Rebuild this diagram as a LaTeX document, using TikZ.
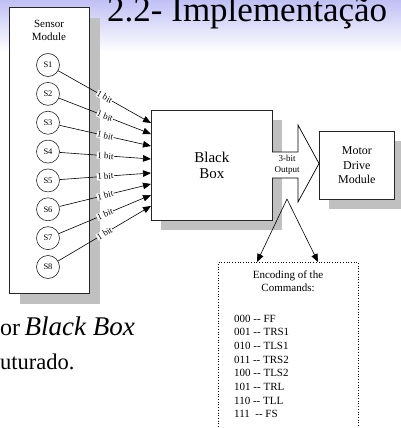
\documentclass[tikz,border=0pt]{standalone}
\usepackage{fontspec}
\setmainfont{Liberation Serif}
\usetikzlibrary{arrows.meta,shadows}
\definecolor{hdr}{RGB}{192,192,245}
\definecolor{shadowgray}{RGB}{192,192,192}
\tikzset{
  shadowed/.style={drop shadow={shadow xshift=#1, shadow yshift=-#1, fill=shadowgray, opacity=1}},
  boxstyle/.style={draw=black!85, line width=0.8pt, fill=white, inner sep=0pt, align=center},
  sensorc/.style={circle, draw=black!85, line width=0.6pt, minimum size=23pt, inner sep=0pt, font=\fontsize{8.5}{10}\selectfont},
  bitline/.style={-{Triangle[length=8pt,width=6.5pt]}, line width=0.6pt},
  bitlabel/.style={sloped, fill=white, inner sep=0.4pt, pos=0.5, font=\fontsize{9}{10}\selectfont},
  codeline/.style={anchor=base west, inner sep=0pt, font=\fontsize{11}{12}\selectfont},
}
\begin{document}
\begin{tikzpicture}[x=1pt,y=-1pt]
\useasboundingbox (0,0) rectangle (401,428);
\clip (0,0) rectangle (401,428);
\fill[white] (0,0) rectangle (401,428);
\shade[top color=hdr, bottom color=white] (0,0) rectangle (401,52);

% title
\node[anchor=base west, inner sep=0pt, font=\fontsize{35}{40}\selectfont] (title) at (107,22) {2.2- Implementação};

% sensor module
\node[boxstyle, shadowed=11pt, minimum width=80pt, minimum height=286pt, anchor=north west] (sensor) at (9,7) {};
\node[align=center, inner sep=0pt, font=\fontsize{11}{13}\selectfont] (sensortxt) at (49,30) {Sensor\\Module};

% black box
\node[boxstyle, shadowed=10pt, minimum width=121pt, minimum height=110pt, anchor=north west, font=\fontsize{15}{16.5}\selectfont] (bb) at (151,110) {Black\\Box};

% sensors and connectors
\foreach \i/\ty in {1/123,2/134,3/146,4/159,5/173,6/184,7/195,8/206}{
  \node[sensorc, fill=white] (s\i) at (48,{65+28.857*(\i-1)}) {S\i};
  \coordinate (t\i) at (151,\ty);
  \draw[bitline] (s\i) -- node[bitlabel] {1 bit} (t\i);
}

% motor drive module
\node[boxstyle, shadowed=10pt, minimum width=75pt, minimum height=68pt, anchor=north west, font=\fontsize{12}{14.5}\selectfont] (motor) at (319,131) {Motor\\Drive\\Module};

% block arrow
\draw[line width=0.7pt, fill=white] (272,152) -- (298,152) -- (298,125) -- (319,163.5) -- (298,202) -- (298,178) -- (272,178);
\node[align=center, inner sep=0pt, font=\fontsize{9}{11}\selectfont] (outtxt) at (287,165) {3-bit\\Output};

% encoding box
\node[draw, dotted, line width=0.7pt, minimum width=140pt, minimum height=180pt, anchor=north west, inner sep=0pt] (enc) at (218,262) {};
\coordinate (split) at (287,199);
\coordinate (encL) at (257,262);
\coordinate (encR) at (318,262);
\draw[bitline] (split) -- (encL);
\draw[bitline] (split) -- (encR);
\node[align=center, inner sep=0pt, font=\fontsize{11}{13}\selectfont, anchor=north] (enctitle) at (288,270.5) {Encoding of the\\Commands:};
\foreach \t [count=\i] in {000 -{}- FF, 001 -{}- TRS1, 010 -{}- TLS1, 011 -{}- TRS2, 100 -{}- TLS2, 101 -{}- TRL, 110 -{}- TLL, 111\ \ -{}- FS}{
  \node[codeline] (c\i) at (234,{322+13.7*(\i-1)}) {\t};
}

% bottom text (cut off)
\node[anchor=base west, inner sep=0pt, font=\fontsize{24}{28}\selectfont] (bt0) at (0,335) {or};
\node[anchor=base east, inner sep=0pt, font=\fontsize{27}{28}\selectfont\itshape] (bt1) at (135,335) {Black Box};
\node[anchor=base west, inner sep=0pt, font=\fontsize{22.5}{28}\selectfont] (bt2) at (0,369) {uturado.};
\end{tikzpicture}
\end{document}
